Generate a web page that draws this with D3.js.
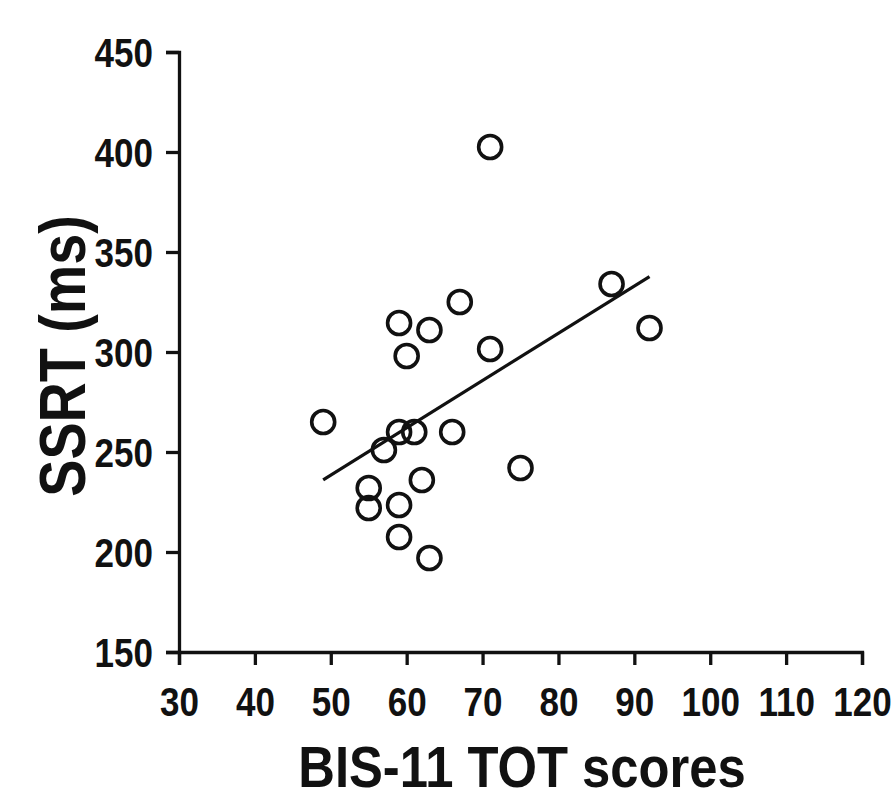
<!DOCTYPE html>
<html>
<head>
<meta charset="utf-8">
<script src="https://cdn.jsdelivr.net/npm/d3@7"></script>
<style>
  body { margin: 0; background: #fff; }
  svg text { font-family: "Liberation Sans", Arial, sans-serif; font-weight: bold; fill: #111; }
  .axis path, .axis line { stroke: #111; stroke-width: 3.3; }
</style>
</head>
<body>
<svg width="891" height="788"></svg>
<script>
// BIS-11 total score vs SSRT, one entry per subject
var bisScores = [71, 87, 92, 67, 71, 59, 63, 60, 49, 66, 61, 59, 57, 75, 55, 55, 62, 59, 59, 63];
var ssrtValues = [402.5, 334, 312, 325, 301.5, 314.5, 311, 298, 265, 260, 260, 260, 251, 242, 232, 222, 236, 223.5, 207.5, 197];
var xTicks = [30, 40, 50, 60, 70, 80, 90, 100, 110, 120];
var yTicks = [150, 200, 250, 300, 350, 400, 450];

var svg = d3.select("svg");

var x = d3.scaleLinear().domain([30, 120]).range([179, 862]),
  y = d3.scaleLinear().domain([150, 450]).range([652, 52]);

var squeeze = 0.875;

var xAxis = svg.append("g")
  .attr("class", "axis")
  .attr("transform", "translate(0," + y(150) + ")")
  .call(d3.axisBottom(x).tickValues(xTicks).tickSize(13).tickSizeOuter(13).tickPadding(0));

xAxis.selectAll("text")
  .attr("font-size", 40)
  .attr("y", 0)
  .attr("dy", null)
  .attr("transform", "translate(0,64) scale(" + squeeze + ",1)");

var yAxis = svg.append("g")
  .attr("class", "axis")
  .attr("transform", "translate(" + x(30) + ",0)")
  .call(d3.axisLeft(y).tickValues(yTicks).tickSize(13).tickSizeOuter(13).tickPadding(0));

yAxis.selectAll("text")
  .attr("font-size", 40)
  .attr("x", 0)
  .attr("dy", "0.36em")
  .attr("transform", "translate(-26,0) scale(" + squeeze + ",1)");

svg.selectAll(".domain").attr("fill", "none");

// least squares fit over the observed range
var points = bisScores.map(function(d, i) {
  return { bis: d, ssrt: ssrtValues[i] };
});
var mx = d3.mean(points, function(d) { return d.bis; }),
  my = d3.mean(points, function(d) { return d.ssrt; });
var sxy = d3.sum(points, function(d) { return (d.bis - mx) * (d.ssrt - my); }),
  sxx = d3.sum(points, function(d) { return (d.bis - mx) * (d.bis - mx); });
var slope = sxy / sxx,
  intercept = my - slope * mx;
var xr = d3.extent(bisScores);

var line = d3.line()
  .x(function(d) { return x(d); })
  .y(function(d) { return y(intercept + slope * d); });

svg.append("path")
  .attr("d", line(xr))
  .attr("fill", "none")
  .attr("stroke", "#111")
  .attr("stroke-width", 3.2);

svg.selectAll(".dot")
  .data(points)
  .enter().append("circle")
  .attr("class", "dot")
  .attr("cx", function(d) { return x(d.bis); })
  .attr("cy", function(d) { return y(d.ssrt); })
  .attr("r", 11.5)
  .attr("fill", "none")
  .attr("stroke", "#111")
  .attr("stroke-width", 3.6);

svg.append("text")
  .attr("text-anchor", "middle")
  .attr("font-size", 58)
  .attr("transform", "translate(522,787) scale(" + squeeze + ",1)")
  .text("BIS-11 TOT scores");

svg.append("text")
  .attr("text-anchor", "middle")
  .attr("font-size", 64)
  .attr("transform", "translate(85,356) rotate(-90) scale(0.87,1)")
  .text("SSRT (ms)");
</script>
</body>
</html>
